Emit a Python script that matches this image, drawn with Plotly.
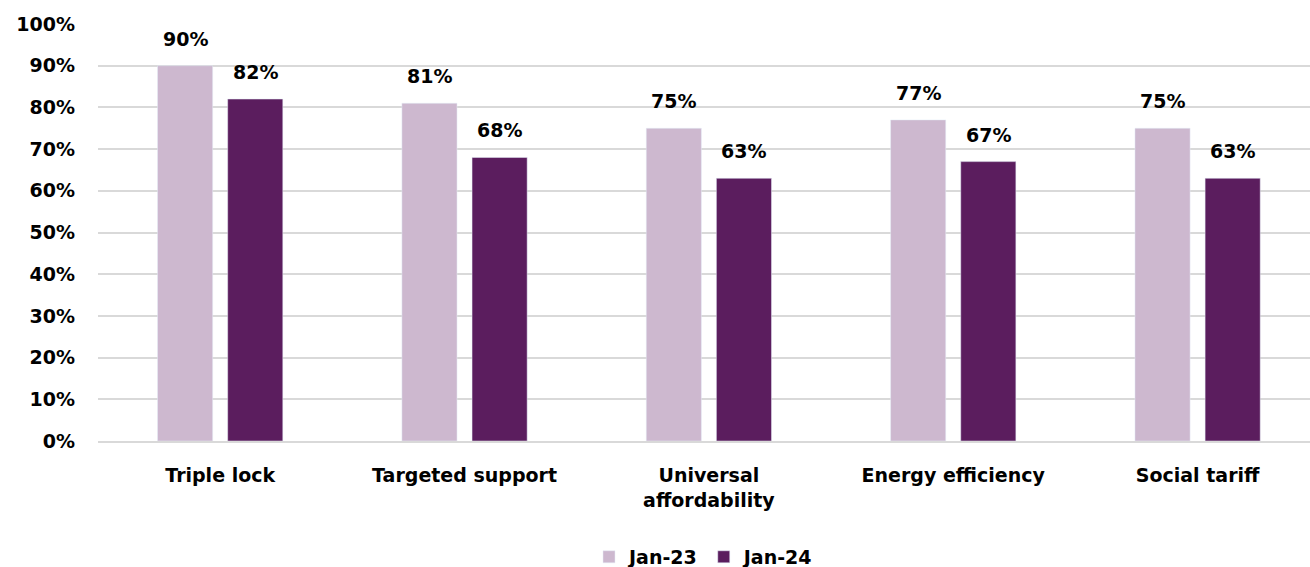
import plotly.graph_objects as go

categories = ["Triple lock", "Targeted support", "Universal<br>affordability",
              "Energy efficiency", "Social tariff"]
jan23 = [90, 81, 75, 77, 75]
jan24 = [82, 68, 63, 67, 63]
y_ticks = [0, 10, 20, 30, 40, 50, 60, 70, 80, 90, 100]
y_tick_labels = [f"{v}%" for v in y_ticks]

LIGHT = "#CDB8CF"
DARK = "#5B1D5E"
FONT = "DejaVu Sans"
SIZE = 19

fig = go.Figure()
fig.add_trace(go.Bar(name="Jan-23", x=categories, y=jan23, marker_color=LIGHT))
fig.add_trace(go.Bar(name="Jan-24", x=categories, y=jan24, marker_color=DARK))

# value labels above each bar
for series, shift in ((jan23, -35), (jan24, 35)):
    for cat, val in zip(categories, series):
        fig.add_annotation(x=cat, y=val, text=f"<b>{val}%</b>", showarrow=False,
                           xshift=shift, yshift=14, yanchor="bottom",
                           font=dict(family=FONT, size=SIZE, color="#000000"))

fig.update_layout(
    width=1310, height=567,
    margin=dict(l=98, r=0, t=24, b=126, autoexpand=False),
    paper_bgcolor="white", plot_bgcolor="white",
    barmode="group", bargap=0.426, bargroupgap=0.214,
    font=dict(family=FONT, size=SIZE, color="#000000", weight="bold"),
    showlegend=True,
    legend=dict(orientation="h", x=0.5, xanchor="center", y=-0.278, yanchor="middle",
                font=dict(family=FONT, size=SIZE, weight="bold"), itemwidth=30,
                traceorder="normal"),
    xaxis=dict(range=[-0.5, 4.46], showgrid=False, showline=True, automargin=False,
               linecolor="#D9D9D9", linewidth=2, ticks="", ticklabelstandoff=16,
               tickfont=dict(family=FONT, size=SIZE, weight="bold")),
    yaxis=dict(range=[0, 100], tickvals=y_ticks, ticktext=y_tick_labels,
               showgrid=True, gridcolor="#D9D9D9", gridwidth=2, zeroline=False,
               automargin=False, ticks="", ticklabelstandoff=22,
               tickfont=dict(family=FONT, size=SIZE, weight="bold")),
)

fig.write_html("out.html")
